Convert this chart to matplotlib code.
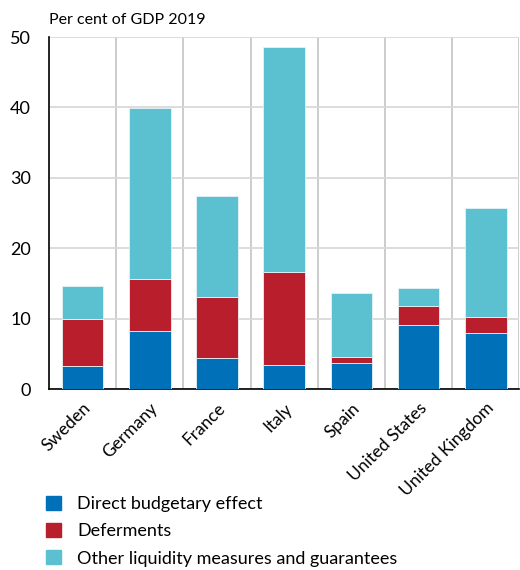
import numpy as np
import matplotlib
matplotlib.use("Agg")
import matplotlib.pyplot as plt
from matplotlib.patches import Patch

plt.rcParams['font.family'] = ['Lato', 'DejaVu Sans']

countries = ["Sweden", "Germany", "France", "Italy", "Spain", "United States", "United Kingdom"]
direct = [3.2, 8.3, 4.45, 3.45, 3.7, 9.1, 8.0]
deferments = [6.7, 7.3, 8.6, 13.2, 0.8, 2.65, 2.3]
other = [4.8, 24.3, 14.3, 32.0, 9.2, 2.6, 15.45]
series_names = ["Direct budgetary effect", "Deferments", "Other liquidity measures and guarantees"]
colors = ["#0070B8", "#B81E2B", "#5BC1D0"]

fig = plt.figure(figsize=(5.2, 5.7), dpi=100)
ax = fig.add_axes([0.094, 0.3175, 0.905, 0.6175])

x = np.arange(len(countries))
bottom = np.zeros(len(countries))
for vals, c in zip([direct, deferments, other], colors):
    ax.bar(x, vals, bottom=bottom, width=0.62, color=c, edgecolor="#E6F2F5",
           linewidth=0.6, zorder=3)
    bottom += np.array(vals)

ax.set_xlim(-0.5, len(countries) - 0.5)
ax.set_ylim(0, 50)
ax.set_yticks([0, 10, 20, 30, 40, 50])
ax.set_xticks(x)
ax.set_xticks(np.arange(len(countries)) + 0.5, minor=True)
ax.set_xticklabels(countries, rotation=45, ha="right", rotation_mode="anchor", fontsize=12.5)
ax.tick_params(axis="y", labelsize=13, length=0, pad=13)
ax.tick_params(axis="x", which="both", length=0, pad=8)
ax.grid(axis="y", color="#D9D9D9", linewidth=1.3, zorder=0)
ax.grid(axis="x", which="minor", color="#C8C8C8", linewidth=1.3, zorder=0)
ax.grid(axis="x", which="major", visible=False)
for s in ["top", "right"]:
    ax.spines[s].set_visible(False)
ax.spines["left"].set_linewidth(1.2)
ax.spines["bottom"].set_linewidth(1.2)

fig.text(0.094, 0.977, "Per cent of GDP 2019", fontsize=11.5, va="top", ha="left")

handles = [Patch(color=c) for c in colors]
fig.legend(handles, series_names, loc="upper left", bbox_to_anchor=(0.075, 0.143),
           frameon=False, fontsize=13, handlelength=0.8, handleheight=0.8,
           handletextpad=0.9, labelspacing=0.62, borderaxespad=0)

fig.savefig("out.png", dpi=100)
